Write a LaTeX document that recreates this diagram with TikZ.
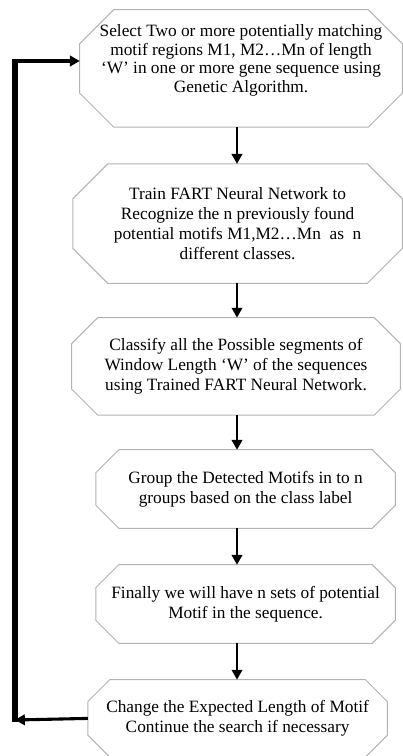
\documentclass[tikz,border=0pt]{standalone}
\usepackage{fontspec}
\setmainfont{Liberation Serif}
\usetikzlibrary{arrows.meta}

\begin{document}
\begin{tikzpicture}[
    stage/.style={rectangle, align=center, inner sep=1pt,
        font=\fontsize{12.3}{14.3}\selectfont,
        append after command={\pgfextra{
            \draw[gray!60, line width=0.7pt]
                ([xshift=#1]\tikzlastnode.north west) -- ([xshift=-#1]\tikzlastnode.north east)
                -- ([yshift=-#1]\tikzlastnode.north east) -- ([yshift=#1]\tikzlastnode.south east)
                -- ([xshift=-#1]\tikzlastnode.south east) -- ([xshift=#1]\tikzlastnode.south west)
                -- ([yshift=#1]\tikzlastnode.south west) -- ([yshift=-#1]\tikzlastnode.north west)
                -- cycle;}}},
    flow/.style={line width=1.5pt, -{Triangle[length=7pt,width=7.5pt]}},
    back/.style={line width=2.2pt}
]
    \useasboundingbox (0,0) rectangle (10.075,-18.9);

    \node[stage=0.85cm, minimum width=8.05cm, minimum height=2.925cm, text depth=14pt,
        font=\fontsize{12.3}{13.1}\selectfont]
        (select) at (6.025,-1.71)
        {Select Two or more potentially matching\\ motif regions M1, M2…Mn of length\\
         ‘W’ in one or more gene sequence using\\ Genetic Algorithm.};
    \node[stage=0.875cm, minimum width=8.225cm, minimum height=2.975cm]
        (train) at (5.94,-5.59)
        {Train FART Neural Network to\\ Recognize the n previously found\\
         potential motifs M1,M2…Mn~ as~ n\\ different classes.};
    \node[stage=0.65cm, minimum width=8.2cm, minimum height=2.425cm]
        (classify) at (5.9,-9.16)
        {Classify all the Possible segments of\\ Window Length ‘W’ of the sequences\\
         using Trained FART Neural Network.};
    \node[stage=0.575cm, minimum width=7.475cm, minimum height=1.95cm]
        (group) at (6.14,-12.225)
        {Group the Detected Motifs in to n\\ groups based on the class label};
    \node[stage=0.575cm, minimum width=7.475cm, minimum height=1.95cm]
        (sets) at (6.14,-15.1)
        {Finally we will have n sets of potential\\ Motif in the sequence.};
    \node[stage=0.55cm, minimum width=7.475cm, minimum height=1.925cm]
        (change) at (5.94,-17.96)
        {Change the Expected Length of Motif\\ Continue the search if necessary};

    \coordinate (spine) at (5.925,0);
    \coordinate (low) at (0.375,-18.0);
    \coordinate (high) at (0.375,-1.525);

    \draw[flow] (select.south -| spine) -- (train.north -| spine);
    \draw[flow] (train.south -| spine) -- (classify.north -| spine);
    \draw[flow] (classify.south -| spine) -- (group.north -| spine);
    \draw[flow] (group.south -| spine) -- (sets.north -| spine);
    \draw[flow] (sets.south -| spine) -- (change.north -| spine);

    % loop back to the first stage
    \draw[back, -{Triangle[length=7pt,width=7.5pt]}] (change.west) -- (low);
    \draw[line width=4pt] ([yshift=-1.1pt]low) -- ([yshift=1.1pt]high);
    \draw[back, -{Triangle[length=7pt,width=7.5pt]}] ([xshift=-2pt]high) -- (select.west |- high);
\end{tikzpicture}
\end{document}
